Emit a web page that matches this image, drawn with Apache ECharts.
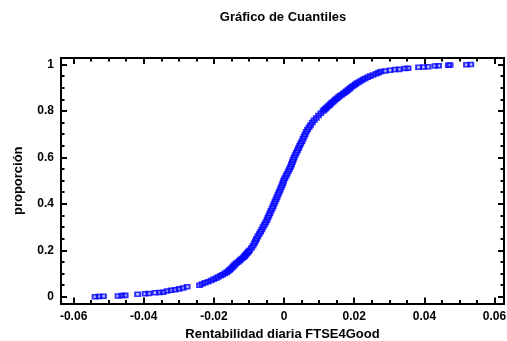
<!DOCTYPE html>
<html>
<head>
<meta charset="utf-8">
<title>Gráfico de Cuantiles</title>
<script src="https://cdn.jsdelivr.net/npm/echarts@6/dist/echarts.min.js"></script>
<style>
  html, body { margin: 0; padding: 0; background: #ffffff; }
  #chart { width: 507px; height: 341px; }
</style>
</head>
<body>
<div id="chart"></div>
<script>
// Daily returns of FTSE4Good, sorted, with their cumulative proportion
const returns = [
  -0.05388, -0.05274, -0.05151, -0.04732, -0.04627, -0.04532, -0.04176, -0.03962, -0.03857,
  -0.03677, -0.03549, -0.03449, -0.03335, -0.03221, -0.03107, -0.02993, -0.02879, -0.02765,
  -0.02409, -0.02338, -0.02252, -0.02166, -0.02081, -0.02010, -0.01938, -0.01881, -0.01810,
  -0.01753, -0.01696, -0.01639, -0.01596, -0.01554, -0.01525, -0.01482, -0.01454, -0.01425,
  -0.01397, -0.01354, -0.01311, -0.01269, -0.01240, -0.01197, -0.01155, -0.01126, -0.01097,
  -0.01069, -0.01040, -0.01012, -0.00983,
  -0.00932, -0.00884, -0.00849, -0.00815, -0.00784, -0.00747, -0.00707, -0.00670, -0.00633,
  -0.00599, -0.00562, -0.00525, -0.00490, -0.00462, -0.00433, -0.00405, -0.00373, -0.00342,
  -0.00314, -0.00285, -0.00257, -0.00228, -0.00200, -0.00171, -0.00143, -0.00114, -0.00086,
  -0.00057, -0.00034, -0.00011, 0.00020, 0.00054, 0.00086, 0.00120, 0.00154, 0.00185,
  0.00211, 0.00237, 0.00262, 0.00285, 0.00316, 0.00348, 0.00382, 0.00413, 0.00445,
  0.00476, 0.00510, 0.00542, 0.00570, 0.00599, 0.00633, 0.00670, 0.00713, 0.00755,
  0.00804, 0.00855, 0.00918, 0.00983, 0.01049, 0.01112,
  0.01146, 0.01183, 0.01217, 0.01254, 0.01288, 0.01326, 0.01360, 0.01397, 0.01434,
  0.01474, 0.01511, 0.01554, 0.01596, 0.01645, 0.01690, 0.01739, 0.01779, 0.01819,
  0.01859, 0.01896, 0.01941, 0.01990, 0.02035, 0.02081, 0.02138, 0.02195, 0.02252,
  0.02309, 0.02380, 0.02452, 0.02537, 0.02623, 0.02694, 0.02765,
  0.02879, 0.03022, 0.03164, 0.03278, 0.03449, 0.03535, 0.03834, 0.03977, 0.04105,
  0.04304, 0.04404, 0.04684, 0.04732, 0.05202, 0.05322
];

const proportion = [
  0.000, 0.001, 0.002, 0.003, 0.005, 0.006, 0.011, 0.013, 0.014,
  0.017, 0.018, 0.019, 0.0245, 0.028, 0.030, 0.034, 0.0375, 0.043,
  0.050, 0.055, 0.060, 0.065, 0.070, 0.075, 0.080, 0.085, 0.090,
  0.095, 0.100, 0.105, 0.110, 0.115, 0.120, 0.125, 0.130, 0.135,
  0.140, 0.145, 0.150, 0.155, 0.160, 0.165, 0.170, 0.175, 0.180,
  0.185, 0.190, 0.195, 0.200,
  0.21, 0.22, 0.23, 0.24, 0.25, 0.26, 0.27, 0.28, 0.29,
  0.30, 0.31, 0.32, 0.33, 0.34, 0.35, 0.36, 0.37, 0.38,
  0.39, 0.40, 0.41, 0.42, 0.43, 0.44, 0.45, 0.46, 0.47,
  0.48, 0.49, 0.50, 0.51, 0.52, 0.53, 0.54, 0.55, 0.56,
  0.57, 0.58, 0.59, 0.60, 0.61, 0.62, 0.63, 0.64, 0.65,
  0.66, 0.67, 0.68, 0.69, 0.70, 0.71, 0.72, 0.73, 0.74,
  0.75, 0.76, 0.77, 0.78, 0.79, 0.80,
  0.805, 0.810, 0.815, 0.820, 0.825, 0.830, 0.835, 0.840, 0.845,
  0.850, 0.855, 0.860, 0.865, 0.870, 0.875, 0.880, 0.885, 0.890,
  0.895, 0.900, 0.905, 0.910, 0.915, 0.920, 0.925, 0.930, 0.935,
  0.940, 0.945, 0.950, 0.955, 0.960, 0.965, 0.970,
  0.972, 0.975, 0.978, 0.979, 0.983, 0.984, 0.988, 0.989, 0.990,
  0.994, 0.995, 0.997, 0.998, 0.999, 1.000
];

// Tick positions
const xMajorTicks = [-0.06, -0.04, -0.02, 0, 0.02, 0.04, 0.06];
const xMinorTicks = [-0.06, -0.055, -0.05, -0.045, -0.04, -0.035, -0.03, -0.025, -0.02,
  -0.015, -0.01, -0.005, 0, 0.005, 0.01, 0.015, 0.02, 0.025, 0.03, 0.035, 0.04,
  0.045, 0.05, 0.055, 0.06];
const yMajorTicks = [0, 0.2, 0.4, 0.6, 0.8, 1];
const yMinorTicks = [0, 0.05, 0.1, 0.15, 0.2, 0.25, 0.3, 0.35, 0.4, 0.45, 0.5, 0.55,
  0.6, 0.65, 0.7, 0.75, 0.8, 0.85, 0.9, 0.95, 1];

const chartTitle = 'Gráfico de Cuantiles';
const xTitle = 'Rentabilidad diaria FTSE4Good';
const yTitle = 'proporción';

const FONT = '"Liberation Sans", Arial, sans-serif';
const X_MIN = -0.0636, X_MAX = 0.0627;
const Y_MIN = -0.029, Y_MAX = 1.028;

const points = returns.map((r, i) => [r, proportion[i]]);
const fmt = v => String(+(+v).toFixed(3));

function frameAxis(kind, position, ticks, len, withLabels, extra) {
  const isX = kind === 'x';
  return Object.assign({
    type: 'value',
    position: position,
    min: isX ? X_MIN : Y_MIN,
    max: isX ? X_MAX : Y_MAX,
    axisLine: { show: true, onZero: false, lineStyle: { color: '#000', width: 2 } },
    axisTick: { show: true, inside: true, length: len, customValues: ticks,
      lineStyle: { color: '#000', width: 2 } },
    axisLabel: withLabels ? {
      show: true, customValues: ticks, formatter: fmt, margin: 7,
      color: '#000', fontFamily: FONT, fontWeight: 'bold', fontSize: 12
    } : { show: false },
    splitLine: { show: false },
    minorTick: { show: false },
    silent: true
  }, extra || {});
}

const chart = echarts.init(document.getElementById('chart'), null, { renderer: 'canvas' });
chart.setOption({
  animation: false,
  backgroundColor: '#ffffff',
  grid: { left: 61, right: 3, top: 58, bottom: 37.5, containLabel: false, outerBoundsMode: 'none' },
  graphic: [{
    type: 'text', x: 283, y: 17,
    style: { text: chartTitle, fill: '#000', textAlign: 'center', textVerticalAlign: 'middle',
      font: 'bold 13px ' + FONT }
  }],
  xAxis: [
    frameAxis('x', 'bottom', xMajorTicks, 6, true, {
      name: xTitle, nameLocation: 'middle', nameGap: 24,
      nameTextStyle: { color: '#000', fontFamily: FONT, fontWeight: 'bold', fontSize: 13 }
    }),
    frameAxis('x', 'bottom', xMinorTicks, 3.5, false),
    frameAxis('x', 'top', xMajorTicks, 6, false),
    frameAxis('x', 'top', xMinorTicks, 3.5, false)
  ],
  yAxis: [
    frameAxis('y', 'left', yMajorTicks, 6, true, {
      name: yTitle, nameLocation: 'middle', nameGap: 36,
      nameTextStyle: { color: '#000', fontFamily: FONT, fontWeight: 'bold', fontSize: 13 }
    }),
    frameAxis('y', 'left', yMinorTicks, 3.5, false),
    frameAxis('y', 'right', yMajorTicks, 6, false),
    frameAxis('y', 'right', yMinorTicks, 3.5, false)
  ],
  series: [{
    type: 'scatter',
    xAxisIndex: 0,
    yAxisIndex: 0,
    data: points,
    symbol: 'rect',
    symbolSize: [5, 4],
    itemStyle: { color: 'rgba(70,70,255,0.45)', borderColor: '#0000ff', borderWidth: 1.7 },
    emphasis: { disabled: true }
  }]
});
</script>
</body>
</html>
